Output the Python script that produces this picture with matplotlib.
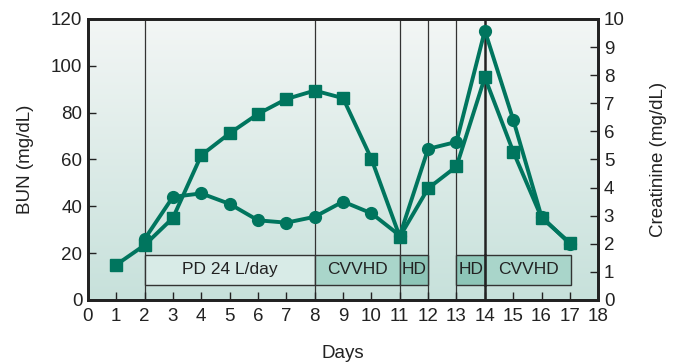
import matplotlib
matplotlib.use('agg')
import matplotlib.pyplot as plt
import numpy as np
from matplotlib.patches import Rectangle

plt.rcParams['font.family'] = ['Liberation Sans', 'DejaVu Sans']

# values
bun_days = [2, 3, 4, 5, 6, 7, 8, 9, 10, 11, 12, 13, 14, 15, 16, 17]
bun = [26, 44, 45.5, 41, 34, 33, 35.5, 42, 37, 27.5, 64.5, 67.5, 115, 77, 35.5, 24]

creat_days = [1, 2, 3, 4, 5, 6, 7, 8, 9, 10, 11, 12, 13, 14, 15, 16, 17]
creat = [1.25, 1.95, 2.92, 5.15, 5.93, 6.62, 7.15, 7.45, 7.18, 5.02, 2.25, 3.97, 4.75, 7.92, 5.28, 2.93, 2.03]

# therapy periods (start day, end day, label, kind)
therapy_start = [2, 8, 11, 13, 14]
therapy_end = [8, 11, 12, 14, 17.05]
therapy_label = ['PD 24 L/day', 'CVVHD', 'HD', 'HD', 'CVVHD']
therapy_kind = ['pd', 'cvvhd', 'hd', 'hd', 'cvvhd']

vlines_days = [2, 8, 11, 12, 13]

green = '#00755e'
fills = {'pd': '#d8ebe7', 'cvvhd': '#a9d5ca', 'hd': '#8dc5b7'}

fig = plt.figure(figsize=(6.76, 3.64), dpi=100)
ax = fig.add_axes([0.130, 0.176, 0.755, 0.772])
ax2 = ax.twinx()

# background gradient
grad = np.linspace(0, 1, 256).reshape(-1, 1)
cmap = matplotlib.colors.LinearSegmentedColormap.from_list('bg', ['#c7e1db', '#f3f6f5'])
ax.imshow(grad, extent=[0, 18, 0, 120], origin='lower', aspect='auto', cmap=cmap, zorder=0)

for d in vlines_days:
    ax.axvline(d, color='#333333', lw=0.9, zorder=1)
ax.axvline(14, color='#222222', lw=1.8, zorder=1)

box_lo, box_hi = 6.4, 19.2
for s, e, lab, k in zip(therapy_start, therapy_end, therapy_label, therapy_kind):
    ax.add_patch(Rectangle((s, box_lo), e - s, box_hi - box_lo, facecolor=fills[k],
                           edgecolor='#333333', lw=1.0, zorder=2))
    ax.text((s + e) / 2, (box_lo + box_hi) / 2, lab, ha='center', va='center',
            fontsize=12.5, color='#222222', zorder=3)
ax.axvline(14, ymin=box_lo / 120, ymax=box_hi / 120, color='#222222', lw=1.8, zorder=3)

ax.plot(bun_days, bun, color=green, lw=2.8, marker='o', ms=8.5, zorder=4)
ax2.plot(creat_days, creat, color=green, lw=2.8, marker='s', ms=8.5, zorder=4)

ax.set_xlim(0, 18)
ax.set_ylim(0, 120)
ax2.set_ylim(0, 10)
ax.set_xticks(range(0, 19))
ax.set_yticks(range(0, 121, 20))
ax2.set_yticks(range(0, 11))

ax.tick_params(direction='in', length=6, width=1, labelsize=13.5, colors='#222222', pad=4)
ax2.tick_params(direction='in', length=6, width=1, labelsize=13.5, colors='#222222', pad=4)
ax.tick_params(axis='x', pad=6)

for a in (ax, ax2):
    for sp in a.spines.values():
        sp.set_linewidth(2)
        sp.set_color('#222222')

ax.set_ylabel('BUN (mg/dL)', fontsize=13.5, color='#222222', labelpad=12)
ax2.set_ylabel('Creatinine (mg/dL)', fontsize=13.5, color='#222222', labelpad=18)
ax.set_xlabel('Days', fontsize=13.5, color='#222222', labelpad=14)

fig.savefig('out.png', dpi=100)
